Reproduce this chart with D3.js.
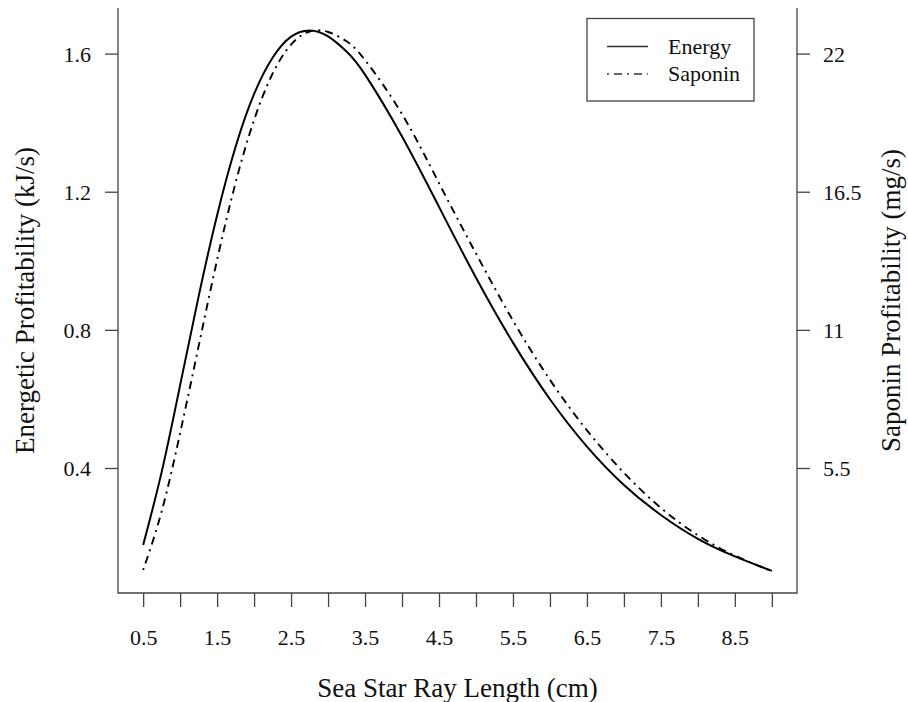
<!DOCTYPE html>
<html><head><meta charset="utf-8">
<script src="https://cdn.jsdelivr.net/npm/d3@7"></script>
<style>body{margin:0;background:#fff}svg{display:block}</style>
</head><body><svg id="c" width="908" height="702"></svg>
<script>
// ---- data ----
const rayLength = [0.5,0.75,1,1.25,1.5,1.75,2,2.25,2.5,2.75,3,3.25,3.5,4,4.5,5,5.5,6,6.5,7,7.5,8,8.5,9];
const energy = [0.177,0.388,0.640,0.897,1.132,1.330,1.483,1.588,1.649,1.667,1.650,1.606,1.539,1.360,1.156,0.951,0.763,0.599,0.462,0.351,0.264,0.195,0.144,0.102];
const saponin = [1.44,3.77,6.89,10.35,13.79,16.86,19.36,21.20,22.36,22.88,22.86,22.49,21.74,19.59,16.84,14.04,11.37,9.01,7.00,5.31,3.91,2.82,2.01,1.40];
const xTicks = [0.5,1,1.5,2,2.5,3,3.5,4,4.5,5,5.5,6,6.5,7,7.5,8,8.5,9];
const xTickLabels = ["0.5","","1.5","","2.5","","3.5","","4.5","","5.5","","6.5","","7.5","","8.5",""];
const energyTicks = [0.4,0.8,1.2,1.6];
const saponinTicks = [5.5,11,16.5,22];
const seriesNames = ["Energy","Saponin"];
const xTitle = "Sea Star Ray Length (cm)";
const yTitleLeft = "Energetic Profitability (kJ/s)";
const yTitleRight = "Saponin Profitability (mg/s)";

// ---- layout ----
const L = 118, R = 797, T = 8, B = 593;
const FONT = "'Liberation Serif','Times New Roman',serif";
const svg = d3.select("#c");

const x = d3.scaleLinear().domain([0.16, 9.34]).range([L, R]);
const yE = d3.scaleLinear().domain([0.038, 1.732]).range([B, T]);
const yS = d3.scaleLinear().domain([0.038*13.75, 1.732*13.75]).range([B, T]);

// box (open top)
svg.append("path")
  .attr("d", `M${L},${T}V${B}H${R}V${T}`)
  .attr("fill","none").attr("stroke","#444").attr("stroke-width",1.3);

// x axis
const gx = svg.append("g").attr("transform",`translate(0,${B})`)
  .call(d3.axisBottom(x).tickValues(xTicks).tickSize(14).tickPadding(22)
    .tickFormat((d,i)=>xTickLabels[i]));
// left axis
const gl = svg.append("g").attr("transform",`translate(${L},0)`)
  .call(d3.axisLeft(yE).tickValues(energyTicks).tickSize(13).tickPadding(14)
    .tickFormat(d3.format(".1f")));
// right axis
const gr = svg.append("g").attr("transform",`translate(${R},0)`)
  .call(d3.axisRight(yS).tickValues(saponinTicks).tickSize(13).tickPadding(13)
    .tickFormat(d=>String(d)));
[gx,gl,gr].forEach(g=>{
  g.select(".domain").remove();
  g.selectAll(".tick line").attr("stroke","#444").attr("stroke-width",1.3);
  g.selectAll(".tick text").attr("fill","#111").style("font-family",FONT).style("font-size","22px");
});
gl.selectAll(".tick text").attr("dy","0.35em");
gr.selectAll(".tick text").attr("dy","0.35em");

// lines
const lineE = d3.line().x((d,i)=>x(rayLength[i])).y(d=>yE(d)).curve(d3.curveNatural);
const lineS = d3.line().x((d,i)=>x(rayLength[i])).y(d=>yS(d)).curve(d3.curveNatural);
svg.append("path").datum(energy).attr("d",lineE)
  .attr("fill","none").attr("stroke","#000").attr("stroke-width",2);
svg.append("path").datum(saponin).attr("d",lineS)
  .attr("fill","none").attr("stroke","#000").attr("stroke-width",1.9)
  .attr("stroke-dasharray","2,5,8,5");

// titles
svg.append("text").attr("x",(L+R)/2).attr("y",697).attr("text-anchor","middle")
  .style("font-family",FONT).style("font-size","27px").attr("fill","#111").text(xTitle);
svg.append("text").attr("transform",`translate(34,${(T+B)/2}) rotate(-90)`).attr("text-anchor","middle")
  .style("font-family",FONT).style("font-size","27px").attr("fill","#111").text(yTitleLeft);
svg.append("text").attr("transform",`translate(900,${(T+B)/2}) rotate(-90)`).attr("text-anchor","middle")
  .style("font-family",FONT).style("font-size","27px").attr("fill","#111").text(yTitleRight);

// legend
const lg = svg.append("g");
lg.append("rect").attr("x",587).attr("y",18.5).attr("width",167).attr("height",82.5)
  .attr("fill","#fff").attr("stroke","#444").attr("stroke-width",1.3);
const legY = [46.5, 74];
seriesNames.forEach((name,i)=>{
  lg.append("line").attr("x1",607).attr("x2",648).attr("y1",legY[i]).attr("y2",legY[i])
    .attr("stroke","#333").attr("stroke-width",1.3)
    .attr("stroke-dasharray", i===1 ? "2,5,8,5" : null);
  lg.append("text").attr("x",668).attr("y",legY[i]).attr("dy","0.33em")
    .style("font-family",FONT).style("font-size","22px").attr("fill","#111").text(name);
});
</script></body></html>
